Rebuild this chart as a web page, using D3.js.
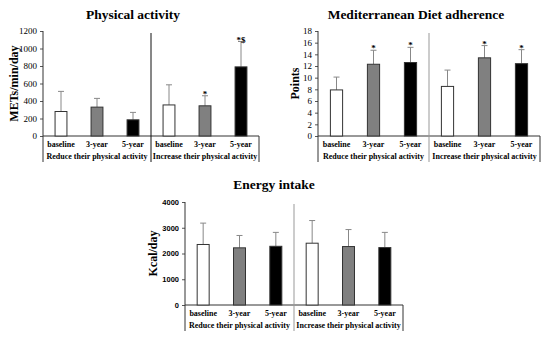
<!DOCTYPE html>
<meta charset="utf-8">
<style>
body { margin: 0; background: #fff; }
text { font-family: "Liberation Serif", serif; }
.title { font-weight: bold; font-size: 13.5px; }
.ytitle { font-weight: bold; font-size: 12px; }
.cat { font-weight: bold; font-size: 8px; }
.tick text { font-size: 9px; }
.sans .tick text { font-family: "Liberation Sans", sans-serif; font-weight: bold; font-size: 7.5px; }
</style>
<svg width="550" height="340"></svg>
<script src="https://d3js.org/d3.v7.min.js"></script>
<script>

var groups = ["Reduce their physical activity", "Increase their physical activity"];
var times = ["baseline", "3-year", "5-year"];
var fills = ["#ffffff", "#808080", "#000000"];

// physical activity (METs/min/day)
var paMean  = [280, 330, 185, 355, 345, 790];
var paUpper = [510, 430, 270, 585, 460, 1080];
var paMarks = ["", "", "", "", "*", "*$"];

// Mediterranean diet adherence (points)
var mdMean  = [7.9, 12.3, 12.6, 8.5, 13.4, 12.4];
var mdUpper = [10.1, 14.7, 15.2, 11.3, 15.5, 14.8];
var mdMarks = ["", "*", "*", "", "*", "*"];

// energy intake (kcal/day)
var eiMean  = [2350, 2220, 2280, 2400, 2270, 2230];
var eiUpper = [3180, 2700, 2820, 3280, 2930, 2820];
var eiMarks = ["", "", "", "", "", ""];

var svg = d3.select("svg");

function panel(opt) {
  var keys = [];
  groups.forEach(function(g, gi) {
    times.forEach(function(t, ti) { keys.push(gi + "-" + ti); });
  });

  var x = d3.scaleBand().domain(keys).range([opt.x0, opt.x1]);
  var y = d3.scaleLinear().domain([0, opt.max]).range([opt.y0, opt.y1]);
  var bw = x.bandwidth() * 0.33;
  var sep = x("1-0");
  var bottom = opt.y0 + 26;

  var g = svg.append("g").attr("class", opt.sans ? "sans" : null);

  g.append("text").attr("class", "title")
      .attr("x", opt.tx).attr("y", opt.ty)
      .attr("text-anchor", "middle")
      .text(opt.title);

  g.append("text").attr("class", "ytitle")
      .attr("transform", "translate(" + opt.yx + "," + ((opt.y0 + opt.y1) / 2) + ") rotate(-90)")
      .attr("text-anchor", "middle")
      .text(opt.ytitle);

  var ax = g.append("g")
      .attr("transform", "translate(" + opt.x0 + ",0)")
      .call(d3.axisLeft(y).ticks(opt.max / opt.step, "d").tickSize(3).tickSizeOuter(0).tickPadding(3));
  ax.select(".domain").remove();
  ax.selectAll("line").attr("stroke", "#555");

  // frame lines
  var lines = [
    [opt.x0, y(opt.max), opt.x0, bottom],
    [opt.x0, opt.y0, opt.x1, opt.y0],
    [sep, y(opt.max) + 2, sep, bottom],
    [opt.x1, opt.y0, opt.x1, bottom]
  ];
  g.selectAll("line.frame").data(lines).enter().append("line")
      .attr("class", "frame")
      .attr("x1", function(d) { return d[0]; })
      .attr("y1", function(d) { return d[1]; })
      .attr("x2", function(d) { return d[2]; })
      .attr("y2", function(d) { return d[3]; })
      .attr("stroke", function(d, i) { return i == 2 ? opt.sepColor : "#333"; })
      .attr("stroke-width", 1);

  var rows = keys.map(function(k, i) {
    return { key: k, mean: opt.mean[i], upper: opt.upper[i], mark: opt.marks[i], ti: i % 3 };
  });

  // error bars
  var eb = g.selectAll("g.err").data(rows).enter().append("g");
  eb.append("line")
      .attr("x1", function(d) { return x(d.key) + x.bandwidth() / 2; })
      .attr("x2", function(d) { return x(d.key) + x.bandwidth() / 2; })
      .attr("y1", function(d) { return y(d.mean); })
      .attr("y2", function(d) { return y(d.upper); })
      .attr("stroke", "#888");
  eb.append("line")
      .attr("x1", function(d) { return x(d.key) + x.bandwidth() / 2 - 3; })
      .attr("x2", function(d) { return x(d.key) + x.bandwidth() / 2 + 3; })
      .attr("y1", function(d) { return y(d.upper); })
      .attr("y2", function(d) { return y(d.upper); })
      .attr("stroke", "#888");
  eb.append("text")
      .attr("x", function(d) { return x(d.key) + x.bandwidth() / 2; })
      .attr("y", function(d) { return y(d.upper) + 1; })
      .attr("text-anchor", "middle")
      .style("font-size", "9px")
      .style("font-weight", "bold")
      .text(function(d) { return d.mark; });

  g.selectAll("rect").data(rows).enter().append("rect")
      .attr("x", function(d) { return x(d.key) + (x.bandwidth() - bw) / 2; })
      .attr("y", function(d) { return y(d.mean); })
      .attr("width", bw)
      .attr("height", function(d) { return y(0) - y(d.mean); })
      .attr("fill", function(d) { return fills[d.ti]; })
      .attr("stroke", "#333")
      .attr("stroke-width", 1);

  // category labels
  g.selectAll("text.t").data(keys).enter().append("text")
      .attr("class", "cat")
      .attr("x", function(d) { return x(d) + x.bandwidth() / 2; })
      .attr("y", opt.y0 + 11)
      .attr("text-anchor", "middle")
      .text(function(d, i) { return times[i % 3]; });

  g.selectAll("text.g").data(groups).enter().append("text")
      .attr("class", "cat")
      .attr("x", function(d, i) { return i == 0 ? (opt.x0 + sep) / 2 : (sep + opt.x1) / 2; })
      .attr("y", opt.y0 + 23)
      .attr("text-anchor", "middle")
      .text(function(d) { return d; });
}

panel({ title: "Physical activity", tx: 133, ty: 19, ytitle: "METs/min/day", yx: 18,
  x0: 43, x1: 259, y0: 136, y1: 31, max: 1200, step: 200, sepColor: "#111",
  mean: paMean, upper: paUpper, marks: paMarks });

panel({ title: "Mediterranean Diet adherence", tx: 416, ty: 19, ytitle: "Points", yx: 299,
  x0: 318, x1: 540, y0: 136, y1: 31, max: 18, step: 2, sepColor: "#999",
  mean: mdMean, upper: mdUpper, marks: mdMarks });

panel({ title: "Energy intake", tx: 274, ty: 189, ytitle: "Kcal/day", yx: 157,
  x0: 185, x1: 403, y0: 305, y1: 202, max: 4000, step: 1000, sepColor: "#999", sans: true,
  mean: eiMean, upper: eiUpper, marks: eiMarks });

</script>
